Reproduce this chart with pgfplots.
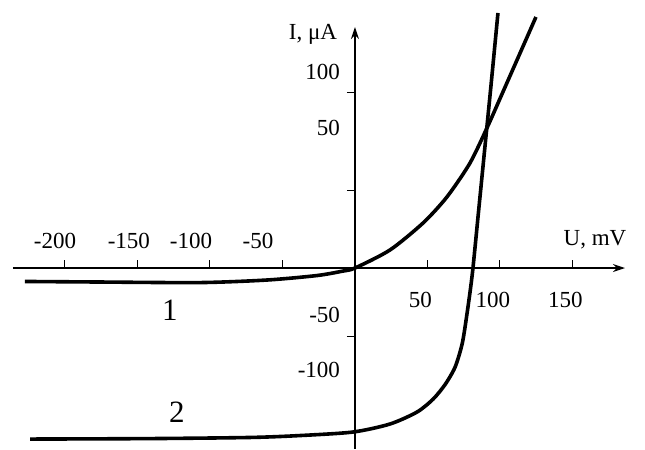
\documentclass[border=0pt]{standalone}
\usepackage{pgfplots}
\pgfplotsset{compat=1.18}
\usetikzlibrary{arrows.meta}
\usepackage{fontspec}
\setmainfont{Liberation Serif}
\begin{document}
\begin{tikzpicture}
\begin{axis}[
  x=0.725pt, y=0.8pt,
  axis lines=middle,
  xmin=-235.9, xmax=186.2,
  ymin=-113.1, ymax=150.6,
  clip=false,
  axis line style={line width=0.65pt, -{Stealth[length=6pt,width=4pt]}},
  tick align=outside,
  major tick length=4pt,
  tick style={black, line width=0.5pt},
  xtick style={yshift=4pt},
  xtick={-200,-150,-100,-50,50,100,150},
  xticklabels={,,,,50,100,150},
  xticklabel style={anchor=north, yshift=-4.5pt, xshift=-3.5pt},
  extra x ticks={-206.9,-155.9,-113.1,-66.9},
  extra x tick labels={-200,-150,-100,-50},
  extra x tick style={major tick length=0pt, xticklabel style={anchor=south, yshift=10.5pt, xshift=3.5pt}},
  ytick={-43.1,48.75,109.4},
  yticklabels={},
  extra y ticks={-63.75,-29.4,87.5,122.5},
  extra y tick labels={-100,-50,50,100},
  extra y tick style={major tick length=0pt, yticklabel style={anchor=east, xshift=-4pt}},
  tick label style={font=\fontsize{11.5}{13}\selectfont},
  /pgf/number format/assume math mode=true,
]
\addplot[black, line width=1.8pt, smooth, tension=0.45] coordinates {
(-227.6,-8.4) (-175.9,-8.75) (-106.9,-9.1) (-60.7,-7.5) (-26.2,-4.7) (-8.3,-1.9) (0,0)
(24.1,11.25) (46.9,28.1) (63.4,44.4) (79.3,65.6) (91.3,88.1) (100.5,106.9) (109.6,125.6) (124.8,156.9)
};
\addplot[black, line width=1.8pt, smooth, tension=0.45] coordinates {
(-224.1,-106.9) (-141.4,-106.6) (-72.4,-105.9) (-37.9,-104.7) (-1.4,-102.5) (24.1,-97.5) (42.8,-90)
(53.8,-82) (62,-73) (69,-62) (74,-47) (77.5,-27) (81,-3) (85.5,38) (90.3,82) (94,116) (98.6,159.4)
};
\node[font=\fontsize{11.5}{13}\selectfont] at (axis cs:165.5,17.5) {U, mV};
\node[font=\fontsize{11.5}{13}\selectfont] at (axis cs:-29,146.3) {I, μA};
\node[font=\fontsize{15.5}{17}\selectfont] at (axis cs:-127.6,-26.25) {1};
\node[font=\fontsize{15.5}{17}\selectfont] at (axis cs:-122.8,-90) {2};
\path (axis cs:-244.8,-113.1) rectangle (axis cs:200,167.5);
\end{axis}
\end{tikzpicture}
\end{document}
